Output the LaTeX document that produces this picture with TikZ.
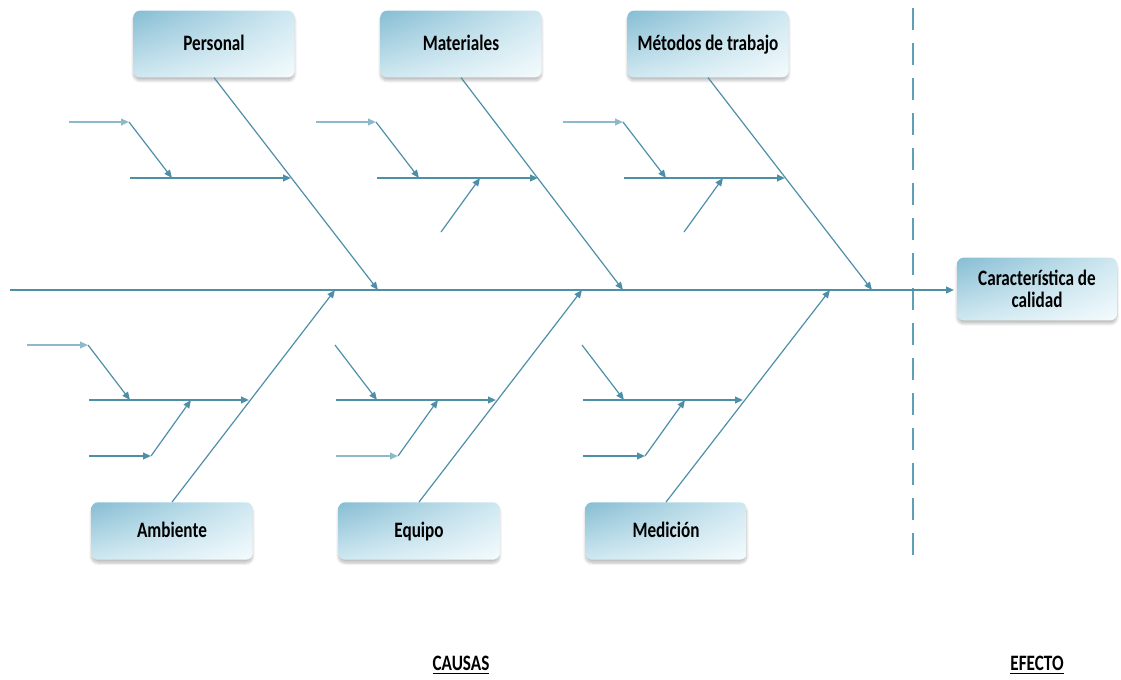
\documentclass[tikz,border=0pt]{standalone}
\usepackage{fontspec}
\setmainfont{Carlito}
\newfontfamily\labelfont[FakeStretch=0.78]{Carlito}
\usetikzlibrary{arrows.meta,shadings,shadows.blur}

\definecolor{bonecol}{HTML}{4E8FA8}
\definecolor{feedcol}{HTML}{8DBACB}
\definecolor{dashcol}{HTML}{5E9EB6}
\definecolor{boxdark}{HTML}{86BDD3}
\definecolor{boxmid}{HTML}{CFE8F1}
\definecolor{boxlight}{HTML}{F4FBFD}

\tikzset{
  cause/.style={rounded corners=5pt, minimum width=121pt, minimum height=50pt,
    upper left=boxdark, upper right=boxmid, lower left=boxmid, lower right=boxlight,
    blur shadow={shadow xshift=0pt, shadow yshift=-2.5pt, shadow blur steps=6, shadow opacity=25},
    font=\labelfont\bfseries\fontsize{16.5}{17}\selectfont, align=center},
  oneline/.style={text height=1.9ex, text depth=0pt},
  tip/.style={-{Triangle[length=6pt,width=5pt]}},
  spine/.style={bonecol, line width=1.8pt, tip},
  bone/.style={bonecol, line width=0.9pt, tip},
  rib/.style={bonecol, line width=1.4pt, tip},
  feeder/.style={feedcol, line width=1.4pt, tip},
  caption/.style={font=\labelfont\bfseries\fontsize{16.5}{17}\selectfont},
}

\begin{document}
\begin{tikzpicture}[x=0.75pt,y=-0.75pt]
\useasboundingbox (0,0) rectangle (1121,679);

% cause boxes
\node[cause, oneline] (personal) at (214,44) {Personal};
\node[cause, oneline] (materiales) at (461,44) {Materiales};
\node[cause, oneline] (metodos) at (708,44) {Métodos de trabajo};
\node[cause, oneline, minimum height=43pt] (ambiente) at (172,531) {Ambiente};
\node[cause, oneline, minimum height=43pt] (equipo) at (419,531) {Equipo};
\node[cause, oneline, minimum height=43pt] (medicion) at (666,531) {Medición};
\node[cause, minimum width=120pt, minimum height=47pt] (efecto) at (1037,289) {Característica de\\calidad};

% separator
\coordinate (sepTop) at (913,8);
\coordinate (sepBot) at (913,562);
\draw[dashcol, line width=1.5pt, dash pattern=on 16.5pt off 9.75pt] (sepTop) -- (sepBot);

% spine
\coordinate (tail) at (10,290);
\draw[spine, shorten >=2pt] (tail) -- (efecto.west |- tail);

% main bones
\coordinate (pJoin) at (378,290);
\coordinate (maJoin) at (623,290);
\coordinate (meJoin) at (872,290);
\coordinate (aJoin) at (335,290);
\coordinate (eJoin) at (582,290);
\coordinate (mJoin) at (830,290);
\draw[bone] (personal.south) -- (pJoin);
\draw[bone] (materiales.south) -- (maJoin);
\draw[bone] (metodos.south) -- (meJoin);
\draw[bone] (ambiente.north) -- (aJoin);
\draw[bone] (equipo.north) -- (eJoin);
\draw[bone] (medicion.north) -- (mJoin);

% upper ribs
\foreach \i/\dx in {1/0,2/247,3/494}{
  \coordinate (ribL\i) at ({130+\dx},178);
  \coordinate (ribR\i) at ({291+\dx},178);
  \coordinate (feedL\i) at ({69+\dx},122);
  \coordinate (feedR\i) at ({129+\dx},122);
  \coordinate (hit\i) at ({172+\dx},178);
  \draw[rib] (ribL\i) -- (ribR\i);
  \draw[feeder] (feedL\i) -- (feedR\i);
  \draw[bone] (feedR\i) -- (hit\i);
}
\coordinate (upA2) at (441,232);
\coordinate (upB2) at (480,178);
\coordinate (upA3) at (684,232);
\coordinate (upB3) at (723,178);
\draw[bone] (upA2) -- (upB2);
\draw[bone] (upA3) -- (upB3);

% lower ribs
\foreach \i/\dx/\sty in {1/0/rib,2/247/feeder,3/494/rib}{
  \coordinate (lowL\i) at ({89+\dx},400);
  \coordinate (lowR\i) at ({249+\dx},400);
  \coordinate (dnA\i) at ({88+\dx},345);
  \coordinate (dnB\i) at ({130+\dx},400);
  \coordinate (subL\i) at ({89+\dx},456);
  \coordinate (subR\i) at ({151+\dx},456);
  \coordinate (subHit\i) at ({191+\dx},400);
  \draw[rib] (lowL\i) -- (lowR\i);
  \draw[bone] (dnA\i) -- (dnB\i);
  \draw[\sty] (subL\i) -- (subR\i);
  \draw[bone] (subR\i) -- (subHit\i);
}
\coordinate (feedA) at (27,345);
\draw[feeder] (feedA) -- (dnA1);

% captions
\node[caption] (causas) at (461,665) {\underline{CAUSAS}};
\node[caption] (efectoCap) at (1037,665) {\underline{EFECTO}};
\end{tikzpicture}
\end{document}
